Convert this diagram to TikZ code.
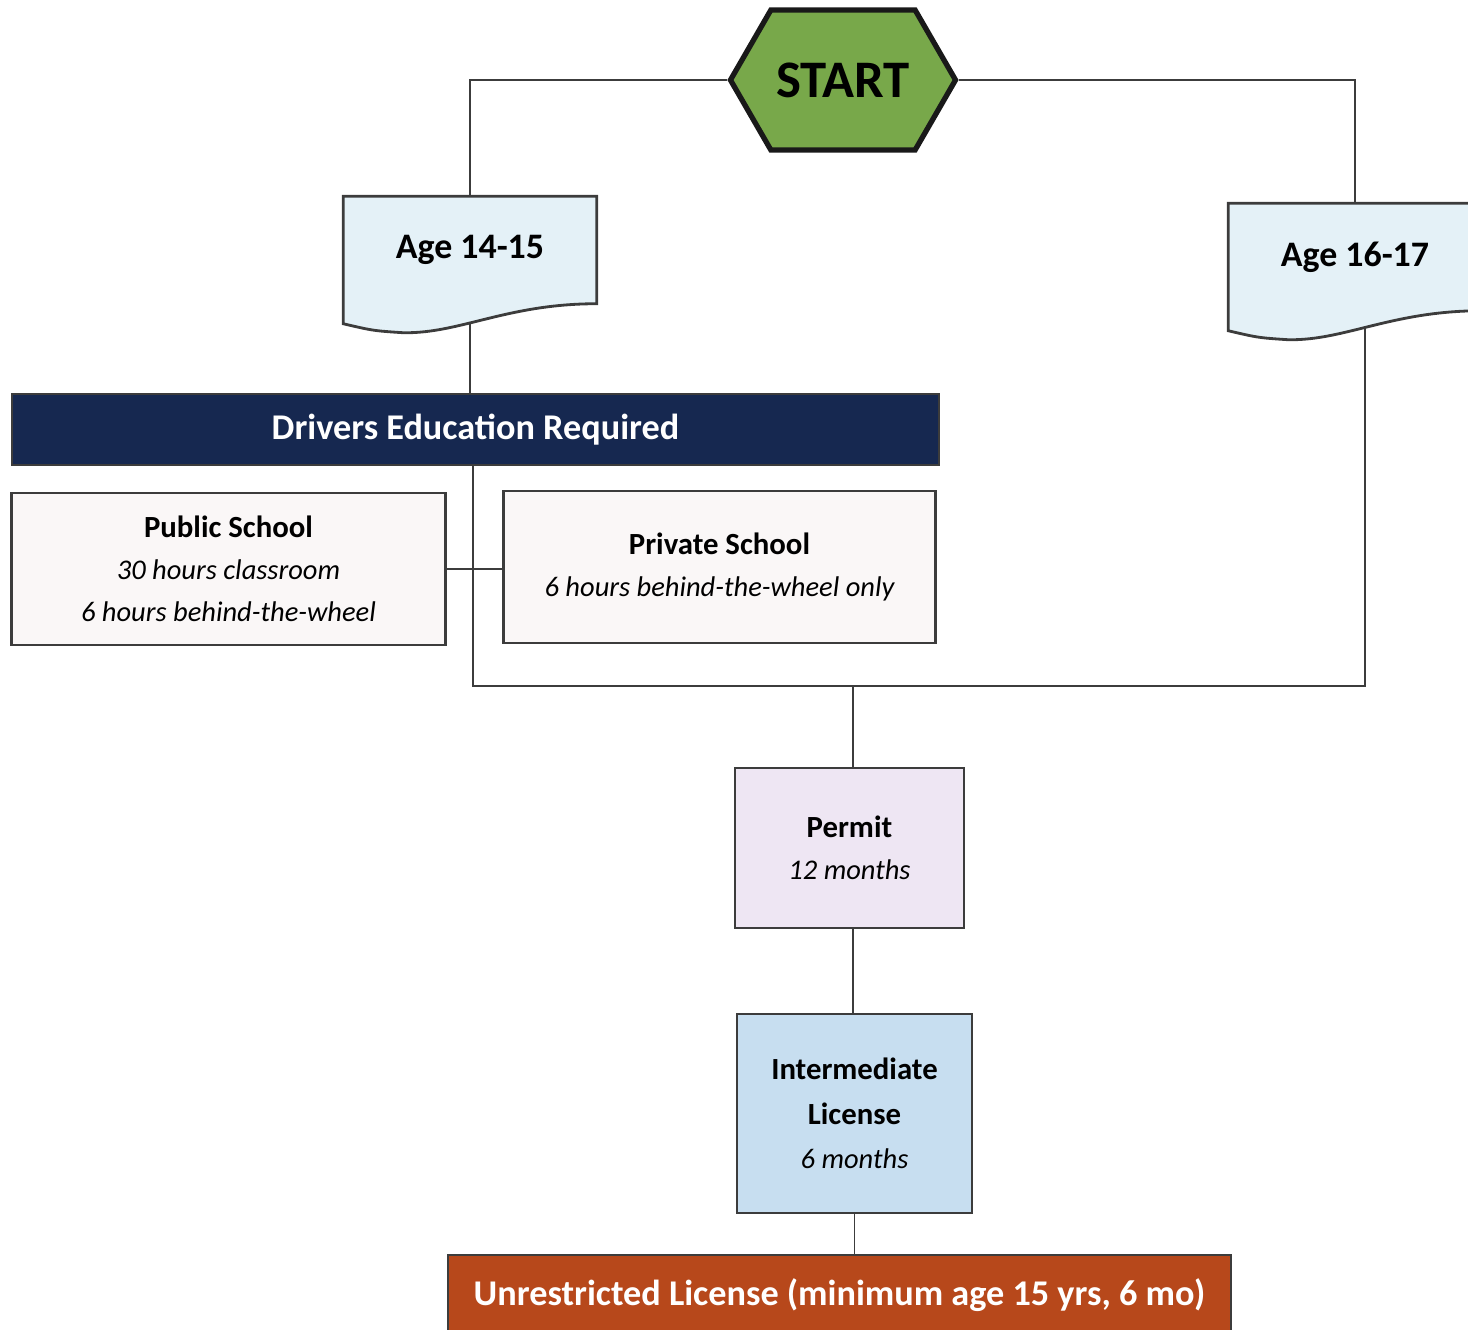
\documentclass[tikz,border=0pt]{standalone}
\usepackage{fontspec}
\setmainfont{Carlito}
\usepackage{tikz}
\usetikzlibrary{shapes.symbols, backgrounds, calc, positioning}
\definecolor{startgreen}{RGB}{120, 168, 74}
\definecolor{agefill}{RGB}{228, 241, 247}
\definecolor{edunavy}{RGB}{22, 40, 80}
\definecolor{schoolfill}{RGB}{250, 247, 247}
\definecolor{permitfill}{RGB}{238, 230, 243}
\definecolor{interfill}{RGB}{199, 222, 240}
\definecolor{unresfill}{RGB}{183, 72, 27}
\definecolor{linegray}{RGB}{60, 60, 60}
\newcommand{\sub}[1]{{\fontsize{8.1}{12}\selectfont\itshape #1}}

\begin{document}
\begin{tikzpicture}[x=0.01cm, y=-0.01cm, align=center,
    hexa/.style={signal, signal to=west and east, signal pointer angle=120, draw=black!90, line width=1.5pt, fill=startgreen, inner xsep=1.5pt, minimum height=1.4cm, font=\fontsize{15}{18}\selectfont\bfseries},
    agebox/.style={minimum width=2.52cm, minimum height=1.06cm, inner sep=0pt, font=\fontsize{10.2}{12}\selectfont\bfseries},
    docline/.style={draw=linegray, line width=0.8pt, fill=agefill},
    bar/.style={rectangle, draw=linegray, line width=0.6pt, text=white, inner sep=0pt, font=\fontsize{10.3}{12}\selectfont\bfseries},
    box/.style={rectangle, draw=linegray, line width=0.8pt, inner sep=0pt, font=\fontsize{8.75}{12}\selectfont},
    link/.style={draw=linegray, line width=0.5pt}]
    \useasboundingbox (0,0) rectangle (1468,1330);
    \node (start) [hexa] at (843,80) {START};
    \node (age1) [agebox] at (470,250) {Age 14-15};
    \node (age2) [agebox] at (1355,257) {Age 16-17};
    \node (edu) [bar, fill=edunavy, minimum width=9.27cm, minimum height=0.71cm] at (475.5,429.5) {Drivers Education Required};
    \node (pub) [box, fill=schoolfill, minimum width=4.33cm, minimum height=1.52cm] at (228.5,569) {\textbf{Public School}\\ \sub{30 hours classroom}\\ \sub{6 hours behind-the-wheel}};
    \node (priv) [box, fill=schoolfill, minimum width=4.31cm, minimum height=1.52cm] at (719.5,567) {\textbf{Private School}\\ \sub{6 hours behind-the-wheel only}};
    \coordinate (hubL) at (473,686);
    \coordinate (hub) at (853,686);
    \node (permit) [box, fill=permitfill, minimum width=2.29cm, minimum height=1.6cm] at (849.5,848) {\textbf{Permit}\\ \sub{12 months}};
    \node (inter) [box, fill=interfill, minimum width=2.35cm, minimum height=1.99cm, font=\fontsize{8.75}{12.6}\selectfont] at (854.5,1113.5) {\textbf{Intermediate}\\ \textbf{License}\\ \sub{6 months}};
    \node (unres) [bar, fill=unresfill, minimum width=7.83cm, minimum height=0.9cm] at (839.5,1300) {\raisebox{4.5pt}{Unrestricted License (minimum age 15 yrs, 6 mo)}};
    \begin{scope}[on background layer]
        \draw[link] (start.west) -| (age1.north);
        \draw[link] (start.east) -| (age2.north);
        \draw[link] (age1.south) -- (age1.south |- edu.north);
        \draw[link] (edu.south -| hubL) -- (hubL) -| ([xshift=0.1cm]age2.south);
        \draw[link] (pub.east) -- (pub.east -| priv.west);
        \draw[link] (hub) -- (hub |- permit.north);
        \draw[link] (permit.south -| hub) -- (inter.north -| hub);
        \draw[link] (inter.south) -- (inter.south |- unres.north);
        \foreach \doc in {age1, age2}
            \draw[docline] (\doc.north west) -- (\doc.north east) -- (\doc.south east)
                .. controls ($(\doc.south east)+(-90,0)$) and ($(\doc.south)+(-10,30)$) .. ($(\doc.south west)+(60,29)$)
                .. controls ($(\doc.south west)+(30,27)$) .. ($(\doc.south west)+(0,20)$) -- cycle;
    \end{scope}
\end{tikzpicture}
\end{document}
